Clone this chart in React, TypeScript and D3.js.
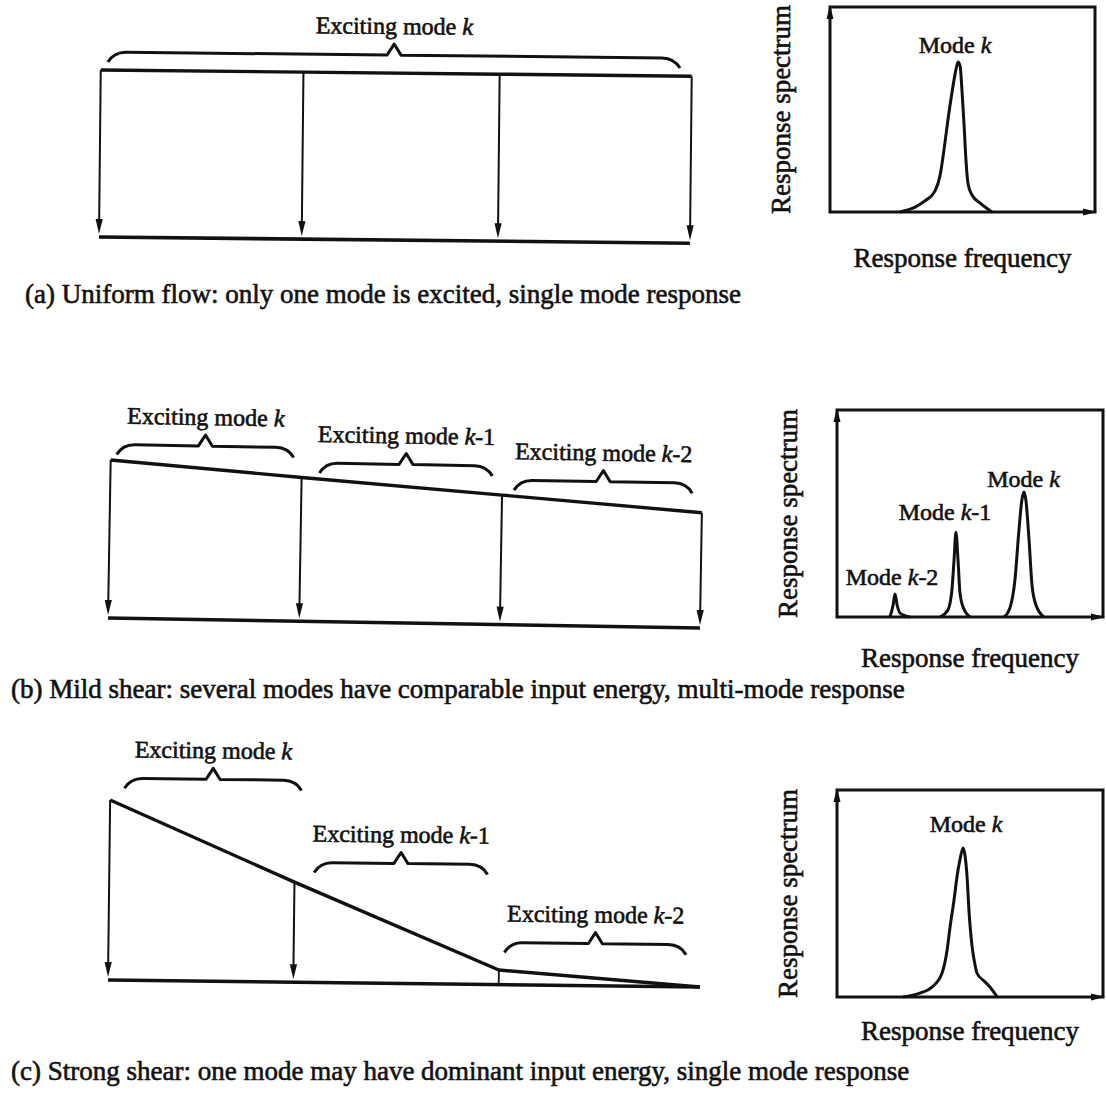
import * as d3 from 'd3';

const FONT = '"Liberation Serif", "Times New Roman", Times, serif';
const INK = '#111';

// velocity profiles: positions across the span (0..1) and relative speed
const POS_A = [0, 0.343, 0.675, 1];
const VEL_A = [1, 1, 1, 1];
const POS_B = [0, 0.323, 0.662, 1];
const VEL_B = [1, 0.91, 0.82, 0.73];
const POS_C = [0, 0.313, 0.66, 1];
const VEL_C = [1, 0.556, 0.081, 0];

// span portions that excite each mode
const BRACE_START_A = [0.012];
const BRACE_END_A = [0.98];
const BRACE_MODE_A = [''];
const BRACE_START_B = [0.01, 0.353, 0.682];
const BRACE_END_B = [0.309, 0.645, 0.983];
const BRACE_MODE_B = ['', '-1', '-2'];
const BRACE_START_C = [0.024, 0.346, 0.669];
const BRACE_END_C = [0.323, 0.639, 0.976];
const BRACE_MODE_C = ['', '-1', '-2'];

// response spectra (frequency 0..100, amplitude 0..100)
const SPEC_A_FREQ = [26.4, 32.1, 35.8, 39.6, 41.5, 43.0, 44.5, 46.0, 47.5, 48.3, 49.1, 49.8, 50.6, 51.3, 52.1, 53.6, 56.6, 61.1];
const SPEC_A_AMP = [0, 2.4, 5.4, 10.2, 17.6, 30.2, 44.9, 58.0, 69.3, 73.2, 71.2, 59.5, 42.4, 25.4, 13.7, 8.3, 4.4, 0];

const SPEC_B_K2_FREQ = [19.9, 21.1, 21.8, 22.6, 23.7, 27.4];
const SPEC_B_K2_AMP = [0, 5.8, 11.1, 5.8, 1.9, 0];
const SPEC_B_K1_FREQ = [38.7, 41.7, 43.2, 44.0, 44.7, 45.5, 46.2, 47.4, 50.0];
const SPEC_B_K1_AMP = [0, 3.4, 13, 27.5, 41, 27.5, 12, 4.8, 0];
const SPEC_B_K_FREQ = [62.8, 65.0, 66.9, 68.4, 69.5, 70.3, 71.0, 72.2, 73.3, 74.8, 77.8];
const SPEC_B_K_AMP = [0, 4.3, 17.9, 42, 56.5, 60.4, 56.5, 37.2, 15.5, 5.8, 0];

const SPEC_C_FREQ = [24.8, 31.2, 35.7, 39.5, 41.4, 42.5, 44.0, 45.1, 46.2, 47.4, 48.1, 48.9, 49.6, 50.8, 51.9, 52.6, 55.3, 57.5, 60.2];
const SPEC_C_AMP = [0, 1.9, 4.8, 11.6, 22.7, 33.8, 46.9, 58.0, 66.2, 72.0, 68.6, 58.0, 42.0, 24.2, 15.5, 11.6, 7.7, 4.8, 0];

// peak labels: mode suffix and anchor in data units
const LABEL_A_MODE = [''];
const LABEL_A_FREQ = [47.2];
const LABEL_A_AMP = [77.6];
const LABEL_B_MODE = ['', '-1', '-2'];
const LABEL_B_FREQ = [70.1, 40.6, 20.7];
const LABEL_B_AMP = [62.8, 46.9, 15.5];
const LABEL_C_MODE = [''];
const LABEL_C_FREQ = [48.5];
const LABEL_C_AMP = [79.7];

const CAPTIONS = [
  '(a) Uniform flow: only one mode is excited, single mode response',
  '(b) Mild shear: several modes have comparable input energy, multi-mode response',
  '(c) Strong shear: one mode may have dominant input energy, single mode response',
];

const textStyle = { fontFamily: FONT, fill: INK, stroke: INK, strokeWidth: 0.6 };

function ModeText({ prefix, suffix }) {
  return (
    <>
      {prefix}
      <tspan fontStyle="italic">k</tspan>
      {suffix}
    </>
  );
}

function bracePath(xs, xe, y) {
  const xm = (xs + xe) / 2;
  return `M${xs},${y + 10} Q${xs + 6},${y} ${xs + 18},${y} L${xm - 7},${y} L${xm},${y - 11} L${xm + 7},${y} L${xe - 18},${y} Q${xe - 6},${y} ${xe},${y + 10}`;
}

function FlowPanel({ x0, yb, width, height, rot, pos, vel, bStart, bEnd, bMode, gap }) {
  const x = d3.scaleLinear().domain([0, 1]).range([x0, x0 + width]);
  const y = d3.scaleLinear().domain([0, 1]).range([yb, yb - height]);
  const velAt = d3.scaleLinear().domain(pos).range(vel);
  const profile = d3.line()(pos.map((p, i) => [x(p), y(vel[i])]));

  return (
    <g transform={`rotate(${rot} ${x0} ${yb})`}>
      <line x1={x(0)} x2={x(1)} y1={y(0)} y2={y(0)} stroke={INK} strokeWidth={3.6} />
      <path d={profile} fill="none" stroke={INK} strokeWidth={3.4} strokeLinejoin="round" />
      {pos.map((p, i) => {
        if (vel[i] < 0.02) return null;
        const px = x(p);
        const top = y(vel[i]);
        if (vel[i] < 0.15) {
          return <line key={i} x1={px} x2={px} y1={top} y2={y(0)} stroke={INK} strokeWidth={1.8} />;
        }
        const tip = y(0) - 3;
        return (
          <g key={i}>
            <line x1={px} x2={px} y1={top} y2={tip - 10} stroke={INK} strokeWidth={2} />
            <path d={`M${px},${tip} L${px - 3.6},${tip - 15} L${px + 3.6},${tip - 15} Z`} fill={INK} />
          </g>
        );
      })}
      {bStart.map((s, i) => {
        const e = bEnd[i];
        const inside = pos.filter((p) => p > s && p < e).map((p) => velAt(p));
        const vmax = Math.max(velAt(s), velAt(e), ...inside);
        const by = y(vmax) - gap;
        const mid = x((s + e) / 2);
        return (
          <g key={`b${i}`}>
            <path d={bracePath(x(s), x(e), by)} fill="none" stroke={INK} strokeWidth={3} strokeLinejoin="round" />
            <text x={mid} y={by - 21} textAnchor="middle" fontSize={24} style={textStyle}>
              <ModeText prefix="Exciting mode " suffix={bMode[i]} />
            </text>
          </g>
        );
      })}
    </g>
  );
}

function SpectrumPanel({ box, peaks, lMode, lFreq, lAmp, xlabelGap }) {
  const [bx0, by0, bx1, by1] = box;
  const x = d3.scaleLinear().domain([0, 100]).range([bx0, bx1]);
  const y = d3.scaleLinear().domain([0, 100]).range([by1, by0]);
  const line = d3
    .line()
    .x((d) => x(d[0]))
    .y((d) => y(d[1]))
    .curve(d3.curveMonotoneX);
  const midY = (by0 + by1) / 2;

  return (
    <g>
      <rect x={bx0} y={by0} width={bx1 - bx0} height={by1 - by0} fill="none" stroke={INK} strokeWidth={3} />
      <path d={`M${bx0},${by0 - 2} L${bx0 - 3.5},${by0 + 12} L${bx0 + 3.5},${by0 + 12} Z`} fill={INK} />
      <path d={`M${bx1 + 2},${by1} L${bx1 - 12},${by1 - 3.5} L${bx1 - 12},${by1 + 3.5} Z`} fill={INK} />
      {peaks.map(([freq, amp], i) => (
        <path
          key={i}
          d={line(freq.map((f, j) => [f, amp[j]]))}
          fill="none"
          stroke={INK}
          strokeWidth={3}
          strokeLinejoin="round"
        />
      ))}
      {lMode.map((m, i) => (
        <text key={i} x={x(lFreq[i])} y={y(lAmp[i])} textAnchor="middle" fontSize={24} style={textStyle}>
          <ModeText prefix="Mode " suffix={m} />
        </text>
      ))}
      <text
        transform={`translate(${bx0 - 40},${midY}) rotate(-90)`}
        textAnchor="middle"
        fontSize={27}
        style={textStyle}
      >
        Response spectrum
      </text>
      <text x={(bx0 + bx1) / 2} y={by1 + xlabelGap} textAnchor="middle" fontSize={27} style={textStyle}>
        Response frequency
      </text>
    </g>
  );
}

export default function App() {
  return (
    <svg
      width={1106}
      height={1098}
      viewBox="0 0 1106 1098"
      style={{ position: 'absolute', left: 0, top: 0, background: '#fff' }}
    >
      <rect width={1106} height={1098} fill="#fff" />

      <FlowPanel
        x0={99} yb={237} width={591} height={167} rot={0.6}
        pos={POS_A} vel={VEL_A}
        bStart={BRACE_START_A} bEnd={BRACE_END_A} bMode={BRACE_MODE_A} gap={18}
      />
      <SpectrumPanel
        box={[830, 7, 1095, 212]}
        peaks={[[SPEC_A_FREQ, SPEC_A_AMP]]}
        lMode={LABEL_A_MODE} lFreq={LABEL_A_FREQ} lAmp={LABEL_A_AMP}
        xlabelGap={55}
      />

      <FlowPanel
        x0={108} yb={618} width={592} height={158} rot={0.97}
        pos={POS_B} vel={VEL_B}
        bStart={BRACE_START_B} bEnd={BRACE_END_B} bMode={BRACE_MODE_B} gap={16}
      />
      <SpectrumPanel
        box={[837, 410, 1103, 617]}
        peaks={[
          [SPEC_B_K2_FREQ, SPEC_B_K2_AMP],
          [SPEC_B_K1_FREQ, SPEC_B_K1_AMP],
          [SPEC_B_K_FREQ, SPEC_B_K_AMP],
        ]}
        lMode={LABEL_B_MODE} lFreq={LABEL_B_FREQ} lAmp={LABEL_B_AMP}
        xlabelGap={50}
      />

      <FlowPanel
        x0={108} yb={980} width={592} height={180} rot={0.68}
        pos={POS_C} vel={VEL_C}
        bStart={BRACE_START_C} bEnd={BRACE_END_C} bMode={BRACE_MODE_C} gap={28}
      />
      <SpectrumPanel
        box={[837, 790, 1103, 997]}
        peaks={[[SPEC_C_FREQ, SPEC_C_AMP]]}
        lMode={LABEL_C_MODE} lFreq={LABEL_C_FREQ} lAmp={LABEL_C_AMP}
        xlabelGap={43}
      />

      <text x={25} y={303} fontSize={27} style={textStyle}>{CAPTIONS[0]}</text>
      <text x={11} y={698} fontSize={27} style={textStyle}>{CAPTIONS[1]}</text>
      <text x={11} y={1080} fontSize={27} style={textStyle}>{CAPTIONS[2]}</text>
    </svg>
  );
}
